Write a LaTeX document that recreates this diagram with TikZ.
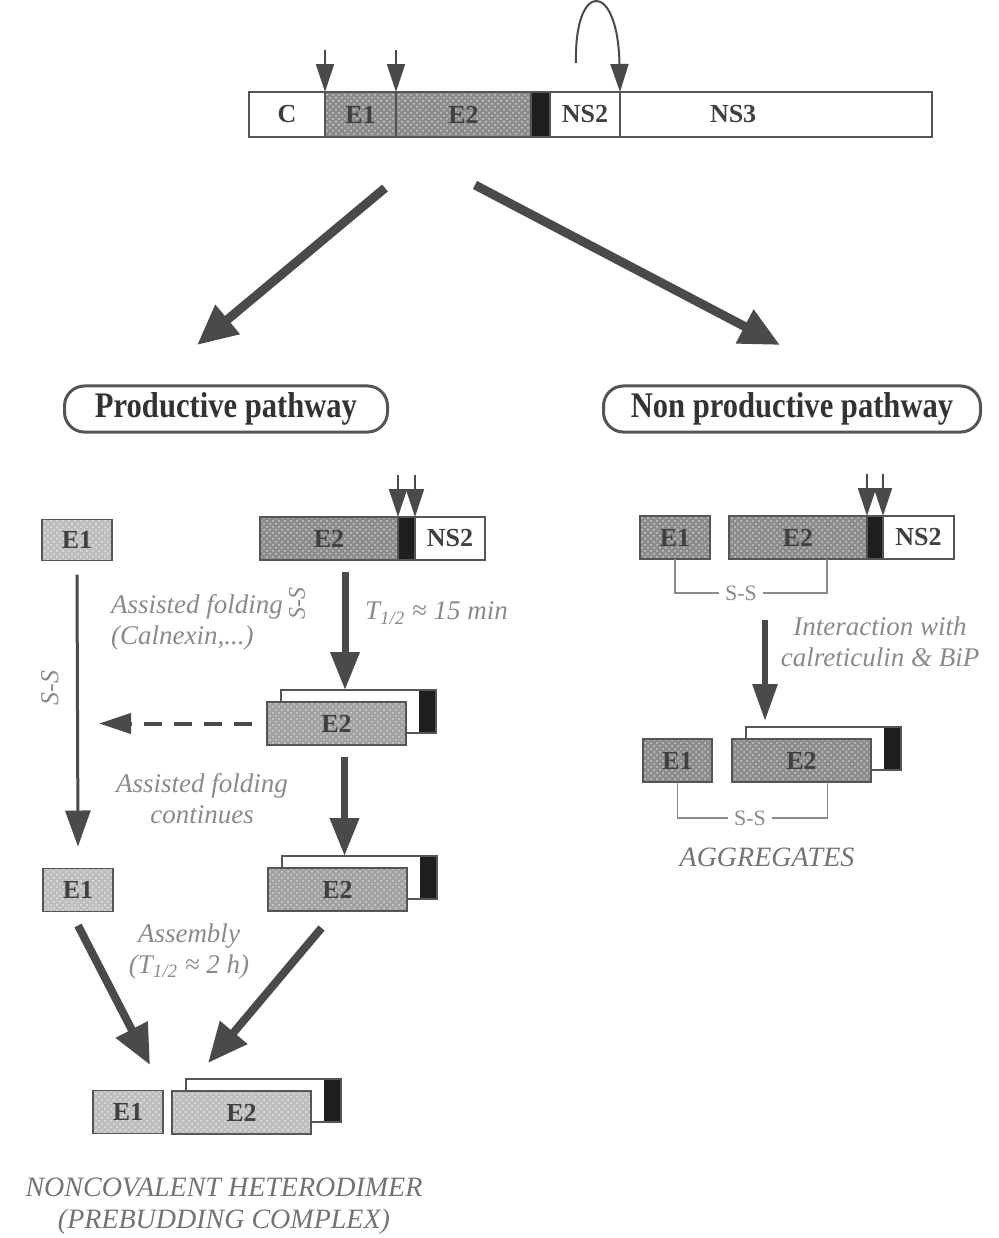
\documentclass[tikz,border=0pt]{standalone}
\usepackage{fontspec}
\setmainfont{Liberation Serif}
\newfontfamily\narrowserif[FakeStretch=0.85]{Liberation Serif}
\usetikzlibrary{positioning,arrows.meta,calc,patterns}
\definecolor{hcvline}{HTML}{555555}
\definecolor{hcvdark}{HTML}{8C8C8C}
\definecolor{hcvmid}{HTML}{A2A2A2}
\definecolor{hcvlight}{HTML}{BEBEBE}
\definecolor{hcvtm}{HTML}{1E1E1E}
\definecolor{hcvarrow}{HTML}{4A4A4A}
\definecolor{hcvtext}{HTML}{8A8A8A}
\newcommand{\lblfont}{\bfseries\fontsize{13}{13}\selectfont}
\newcommand{\dimerE}[4][envmid]{% front E2 with its folded partner behind
  \node[backbox,anchor=north west] (#2b) at ($(#3,#4)+(14,-12)$) {};
  \node[#1,minimum width=69.5pt,anchor=north west] (#2) at (#3,#4) {E2};
}
\tikzset{
    seg/.style={draw=hcvline,line width=0.8pt,inner sep=0pt,outer sep=0pt,minimum height=21.5pt,font=\lblfont,text=black!75},
    env/.style={seg,preaction={fill=hcvdark},preaction={pattern=crosshatch dots,pattern color=white!55!hcvdark}},
    envmid/.style={seg,preaction={fill=hcvmid},preaction={pattern=crosshatch dots,pattern color=white!55!hcvmid}},
    envlt/.style={seg,preaction={fill=hcvlight},preaction={pattern=crosshatch dots,pattern color=white!60!hcvlight}},
    tm/.style={seg,fill=hcvtm},
    plain/.style={seg,fill=white},
    backbox/.style={seg,fill=white,minimum width=77.5pt,
        path picture={\fill[hcvtm] ([xshift=-8.5pt]path picture bounding box.north east) rectangle (path picture bounding box.south east);}},
    pathway/.style={draw=hcvline,line width=1.5pt,rounded corners=10pt,minimum height=21pt,
        font=\narrowserif\bfseries\fontsize{18}{18}\selectfont,text=black!80},
    note/.style={font=\itshape\fontsize{13.5}{15.5}\selectfont,text=hcvtext,align=center},
    caps/.style={font=\itshape\fontsize{14}{16}\selectfont,text=black!55,align=center},
    ssbond/.style={font=\fontsize{11}{11}\selectfont,text=hcvtext,inner sep=3pt},
    ssturn/.style={ssbond,rotate=90,font=\itshape\fontsize{13}{13}\selectfont},
    bond/.style={draw=hcvtext,line width=0.6pt},
    toparrow/.style={draw=hcvarrow,line width=4.5pt,-{Triangle[length=20pt,width=18pt]}},
    downarrow/.style={draw=hcvarrow,line width=3.5pt,-{Triangle[length=19pt,width=14pt]}},
    asmarrow/.style={draw=hcvarrow,line width=4pt,-{Triangle[length=20pt,width=17pt]}},
    midarrow/.style={draw=hcvarrow,line width=3pt,-{Triangle[length=18.5pt,width=12pt]}},
    thinarrow/.style={draw=hcvarrow,line width=1.5pt,-{Triangle[length=18pt,width=12.5pt]}},
    dasharrow/.style={draw=hcvarrow,line width=2pt,dash pattern=on 9pt off 6pt,-{Triangle[length=16pt,width=10pt]}},
    cleave/.style={draw=hcvarrow,line width=1pt,-{Triangle[length=14pt,width=9pt]}},
}
\begin{document}
\begin{tikzpicture}[x=0.5pt,y=-0.5pt]
    \useasboundingbox (0,0) rectangle (998,1238);

    % polyprotein
    \node[plain,minimum width=38pt,minimum height=22.5pt,anchor=north west] (c) at (249,92) {C};
    \node[env,minimum width=35.5pt,minimum height=22.5pt,right=0pt of c] (e1) {E1};
    \node[env,minimum width=67.5pt,minimum height=22.5pt,right=0pt of e1] (e2) {E2};
    \node[tm,minimum width=9.5pt,minimum height=22.5pt,right=0pt of e2] (tm) {};
    \node[plain,minimum width=35pt,minimum height=22.5pt,right=0pt of tm] (ns2) {NS2};
    \node[plain,minimum width=156pt,minimum height=22.5pt,right=0pt of ns2] (ns3) {\makebox[156pt][l]{\hspace{45pt}NS3}};
    \coordinate (arcstart) at (576,63);
    \draw[cleave] ([yshift=21pt]e1.north west) -- (e1.north west);
    \draw[cleave] ([yshift=21pt]e2.north west) -- (e2.north west);
    \draw[cleave] (arcstart) .. controls (574,-20) and (618,-20) .. (ns3.north west);

    % the two pathways
    \coordinate (splitL) at (385,188);
    \coordinate (splitR) at (475,185);
    \coordinate (prodtip) at (197,345);
    \coordinate (nontip) at (780,345);
    \draw[toparrow] (splitL) -- (prodtip);
    \draw[toparrow] (splitR) -- (nontip);
    \node[pathway,minimum width=161.5pt] (prod) at (226,409) {Productive pathway};
    \node[pathway,minimum width=188.5pt] (nonprod) at (792,409) {Non productive pathway};

    % productive pathway
    \node[envlt,minimum width=35pt,minimum height=20.5pt] (le1) at (77,540) {E1};
    \node[env,minimum width=69pt,anchor=north west] (lE2) at (260,517) {E2};
    \node[tm,minimum width=8.5pt,right=0pt of lE2] (ltm) {};
    \node[plain,minimum width=35pt,right=0pt of ltm] (lns2) {NS2};
    \draw[cleave] ([yshift=21pt]lE2.north east) -- (lE2.north east);
    \draw[cleave] ([yshift=21pt]ltm.north east) -- (ltm.north east);

    \dimerE{f1}{267}{702}
    \dimerE{f2}{268}{868}
    \node[envlt,minimum width=35pt] (le2) at (78,890) {E1};

    \draw[downarrow] ([xshift=8pt,yshift=-6pt]lE2.south) -- ([xshift=8pt]lE2.south |- f1b.north);
    \draw[downarrow] ([xshift=4pt,yshift=-6pt]f1.south) -- ([xshift=4pt]f1.south |- f2b.north);
    \draw[thinarrow] ([yshift=-7pt]le1.south) -- ([yshift=11pt]le2.north);
    \draw[dasharrow] ($(f1.west)+(-15,0)$) -- ($(le1.east |- f1.west)+(-13,0)$);

    \node[ssturn] (ssl) at (50,688) {S-S};
    \node[ssturn,font=\itshape\fontsize{12}{12}\selectfont] (ssr) at (297,603) {S-S};
    \node[note,align=left,anchor=west] (calnexin) at (104,622) {Assisted folding\\(Calnexin,...)};
    \node[note,anchor=west] (thalf) at (358,613) {T\textsubscript{1/2} ≈ 15 min};
    \node[note] (contin) at (202,799) {Assisted folding\\continues};
    \node[note] (assembly) at (189,951) {Assembly\\(T\textsubscript{1/2} ≈ 2 h)};

    % heterodimer
    \node[envlt,minimum width=35pt] (fe1) at (128,1112) {E1};
    \dimerE[envlt]{fin}{172}{1091}
    \coordinate (finL) at (150,1065);
    \coordinate (finR) at (208,1063);
    \draw[asmarrow] ([yshift=-7pt]le2.south) -- (finL);
    \draw[asmarrow] ([xshift=-8pt,yshift=-8.5pt]f2.south) -- (finR);
    \node[caps] (hetero) at (224,1206) {NONCOVALENT HETERODIMER\\(PREBUDDING COMPLEX)};

    % non productive pathway
    \node[env,minimum width=35pt] (re1) at (675,537.5) {E1};
    \node[env,minimum width=69pt,anchor=north west] (rE2) at (729,516) {E2};
    \node[tm,minimum width=8pt,right=0pt of rE2] (rtm) {};
    \node[plain,minimum width=35.5pt,right=0pt of rtm] (rns2) {NS2};
    \draw[cleave] ([yshift=21pt]rE2.north east) -- (rE2.north east);
    \draw[cleave] ([yshift=21pt]rtm.north east) -- (rtm.north east);
    \node[ssbond] (rss) at (741,593) {S-S};
    \draw[bond] (re1.south) |- (rss.west);
    \draw[bond] ([xshift=14.5pt]rE2.south) |- (rss.east);

    \coordinate (aggstart) at (765,620);
    \coordinate (aggtip) at (765,721);
    \draw[midarrow] (aggstart) -- (aggtip);
    \node[note] (interact) at (880,642) {Interaction with\\calreticulin \& BiP};

    \node[env,minimum width=34.5pt] (ae1) at (677.5,760.5) {E1};
    \dimerE[env]{ag}{732}{739}
    \node[ssbond] (ass) at (750,818) {S-S};
    \draw[bond] (ae1.south) |- (ass.west);
    \draw[bond] ([xshift=13pt]ag.south) |- (ass.east);
    \node[caps] (aggr) at (767,857) {AGGREGATES};
\end{tikzpicture}
\end{document}
